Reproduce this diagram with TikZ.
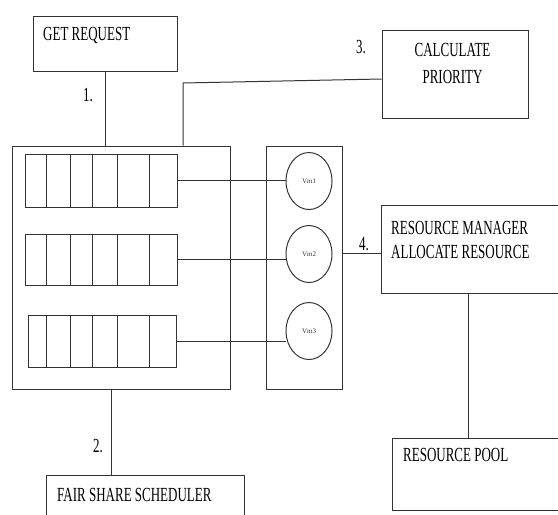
\documentclass[tikz,border=0pt]{standalone}
\usepackage{fontspec}
\setmainfont{Liberation Serif}
\usetikzlibrary{shapes.geometric}
\newcommand{\etroit}[1]{\scalebox{0.65}[1]{#1}}

\begin{document}
\begin{tikzpicture}[x=1pt,y=-1pt]
\tikzstyle{boite} = [draw,rectangle,inner sep=0,line width=1pt,black!80];
\tikzstyle{texte} = [inner sep=0,font=\fontsize{20}{24}\selectfont];
\tikzstyle{trait} = [line width=1pt,black!80];
\tikzstyle{vmrond} = [draw,ellipse,inner sep=0,line width=1pt,black!80,minimum width=46,minimum height=57];

\useasboundingbox (0,0) rectangle (558,515);
\clip (0,0) rectangle (558,515);

% les boites
\node[boite,minimum width=144,minimum height=55] (get) at (105,43.5) {};
\node[boite,minimum width=146,minimum height=88] (calc) at (455,74) {};
\node[boite,minimum width=218,minimum height=243] (file) at (121,267.5) {};
\node[boite,minimum width=76,minimum height=243] (vm) at (304,267.5) {};
\node[boite,minimum width=189,minimum height=88] (rm) at (475.5,249) {};
\node[boite,minimum width=178,minimum height=72] (pool) at (481,474) {};
\node[boite,minimum width=198,minimum height=60] (fair) at (145,505) {};

% les files
\foreach \n/\cx/\cy/\w/\h in {1/101/180.5/152/53,2/101/259.5/152/51,3/102/341/148/52}{
	\node[boite,minimum width=\w,minimum height=\h] (q\n) at (\cx,\cy) {};
	\foreach \d in {46,70,92,117,149}{
		\draw[trait] (\d,0 |- q\n.north) -- (\d,0 |- q\n.south);
	}
}

% les machines virtuelles
\foreach \n/\y in {1/181,2/254,3/331}{
	\node[vmrond] (vm\n) at (309,\y) {\fontsize{7}{8}\selectfont Vm\n};
	\draw[trait] (q\n.east) -- (q\n.east -| vm\n.west);
}

% les textes
\node[texte,anchor=base west] (gettxt) at (43,40) {\etroit{GET REQUEST}};
\node[texte,anchor=base] (calctxt) at (452.5,56) {\etroit{CALCULATE}};
\node[texte,anchor=base] (priotxt) at (452.5,83) {\etroit{PRIORITY}};
\node[texte,anchor=base west] (rmtxt) at (391,234) {\etroit{RESOURCE MANAGER}};
\node[texte,anchor=base west] (alloctxt) at (391,258) {\etroit{ALLOCATE RESOURCE}};
\node[texte,anchor=base west] (pooltxt) at (403,461) {\etroit{RESOURCE POOL}};
\node[texte,anchor=base west] (fairtxt) at (57,501) {\etroit{FAIR SHARE SCHEDULER}};

\node[texte,anchor=base west] (un) at (83,101) {\etroit{1.}};
\node[texte,anchor=base west] (deux) at (93,452) {\etroit{2.}};
\node[texte,anchor=base west] (trois) at (356,53) {\etroit{3.}};
\node[texte,anchor=base west] (quatre) at (359,250) {\etroit{4.}};

% les liaisons
\coordinate (coude) at (183,83);
\draw[trait] (get.south) -- (get.south |- file.north);
\draw[trait] ([yshift=-5pt]calc.west) -- (coude) -- (coude |- file.north);
\draw[trait] ([yshift=-4pt]rm.west) -- ([yshift=-4pt]rm.west -| vm.east);
\draw[trait] ([xshift=-7.5pt]rm.south) -- ([xshift=-7.5pt]rm.south |- pool.north);
\draw[trait] ([xshift=-10pt]file.south) -- ([xshift=-10pt]file.south |- fair.north);

\end{tikzpicture}
\end{document}
